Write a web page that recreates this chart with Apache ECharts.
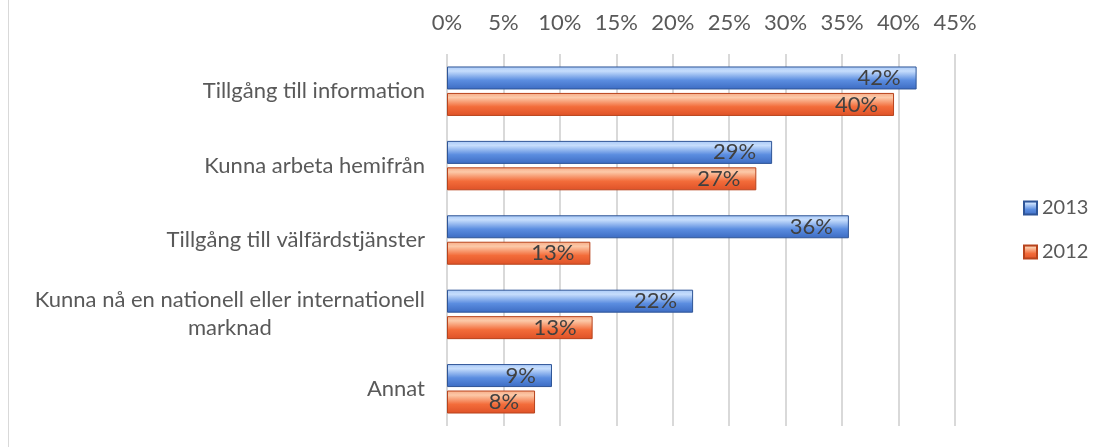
<!DOCTYPE html>
<html>
<head>
<meta charset="utf-8">
<script src="https://cdn.jsdelivr.net/npm/echarts@6/dist/echarts.min.js"></script>
<style>
  html, body { margin: 0; padding: 0; background: #fff; }
  #wrap { position: relative; width: 1100px; height: 447px; }
  #frame { position: absolute; left: 8px; top: 0; width: 1px; height: 447px; background: #d9d9d9; }
  #chart { position: absolute; left: 0; top: 0; width: 1100px; height: 447px; }
</style>
</head>
<body>
<div id="wrap"><div id="frame"></div><div id="chart"></div></div>
<script>
const categories = [
  'Tillgång till information',
  'Kunna arbeta hemifrån',
  'Tillgång till välfärdstjänster',
  'Kunna nå en nationell eller internationell\nmarknad',
  'Annat'
];
const values2013 = [41.6, 28.8, 35.6, 21.8, 9.3];
const values2012 = [39.6, 27.4, 12.7, 12.9, 7.8];
const seriesNames = ['2013', '2012'];
const xTicks = [0, 5, 10, 15, 20, 25, 30, 35, 40, 45];

const chart = echarts.init(document.getElementById('chart'));
const FONT = 'Lato';
const TXT = '#595959';

function grad(light, lighter, main, dark) {
  return new echarts.graphic.LinearGradient(0, 0, 0, 1, [
    { offset: 0, color: light },
    { offset: 0.2, color: lighter },
    { offset: 0.6, color: main },
    { offset: 1, color: dark }
  ]);
}

const blue = grad('#a9c9f7', '#c6ddfc', '#5b8de0', '#3c6bc2');
const orange = grad('#f7ab86', '#fcc9a8', '#f36c3a', '#de5127');

function pct(p) { return Math.round(p.value) + '%'; }

chart.setOption({
  animation: false,
  textStyle: { fontFamily: FONT },
  grid: { left: 447, right: 145, top: 54, bottom: 21, containLabel: false },
  legend: {
    orient: 'vertical',
    left: 1018,
    top: 193,
    itemWidth: 13,
    itemHeight: 13,
    itemGap: 24,
    icon: 'rect',
    textStyle: { color: TXT, fontSize: 20, fontFamily: FONT },
    data: seriesNames
  },
  xAxis: {
    type: 'value',
    position: 'top',
    min: xTicks[0],
    max: xTicks[xTicks.length - 1],
    interval: 5,
    axisLine: { show: false },
    axisTick: { show: false },
    axisLabel: { color: TXT, fontSize: 22, margin: 20, formatter: '{value}%' },
    splitLine: { show: true, lineStyle: { color: '#d9d9d9', width: 2 } }
  },
  yAxis: {
    type: 'category',
    inverse: true,
    data: categories,
    axisLine: { show: false },
    axisTick: { show: false },
    axisLabel: {
      margin: 22,
      color: TXT,
      fontSize: 22,
      lineHeight: 28,
      formatter: function (v) {
        return v.split('\n').map(function (l) { return '{c|' + l + '}'; }).join('\n');
      },
      rich: { c: { align: 'center', color: TXT, fontSize: 22, lineHeight: 28, fontFamily: FONT } }
    }
  },
  series: [
    {
      name: seriesNames[0],
      type: 'bar',
      data: values2013,
      barWidth: 23,
      barGap: '15%',
      itemStyle: { color: blue, borderColor: '#2f5597', borderWidth: 1 },
      label: {
        show: true, position: 'insideRight', distance: 16,
        color: '#404040', fontSize: 22, fontFamily: FONT,
        formatter: pct
      }
    },
    {
      name: seriesNames[1],
      type: 'bar',
      data: values2012,
      barWidth: 23,
      barGap: '15%',
      itemStyle: { color: orange, borderColor: '#b8441d', borderWidth: 1 },
      label: {
        show: true, position: 'insideRight', distance: 16,
        color: '#404040', fontSize: 22, fontFamily: FONT,
        formatter: pct
      }
    }
  ]
});
</script>
</body>
</html>
